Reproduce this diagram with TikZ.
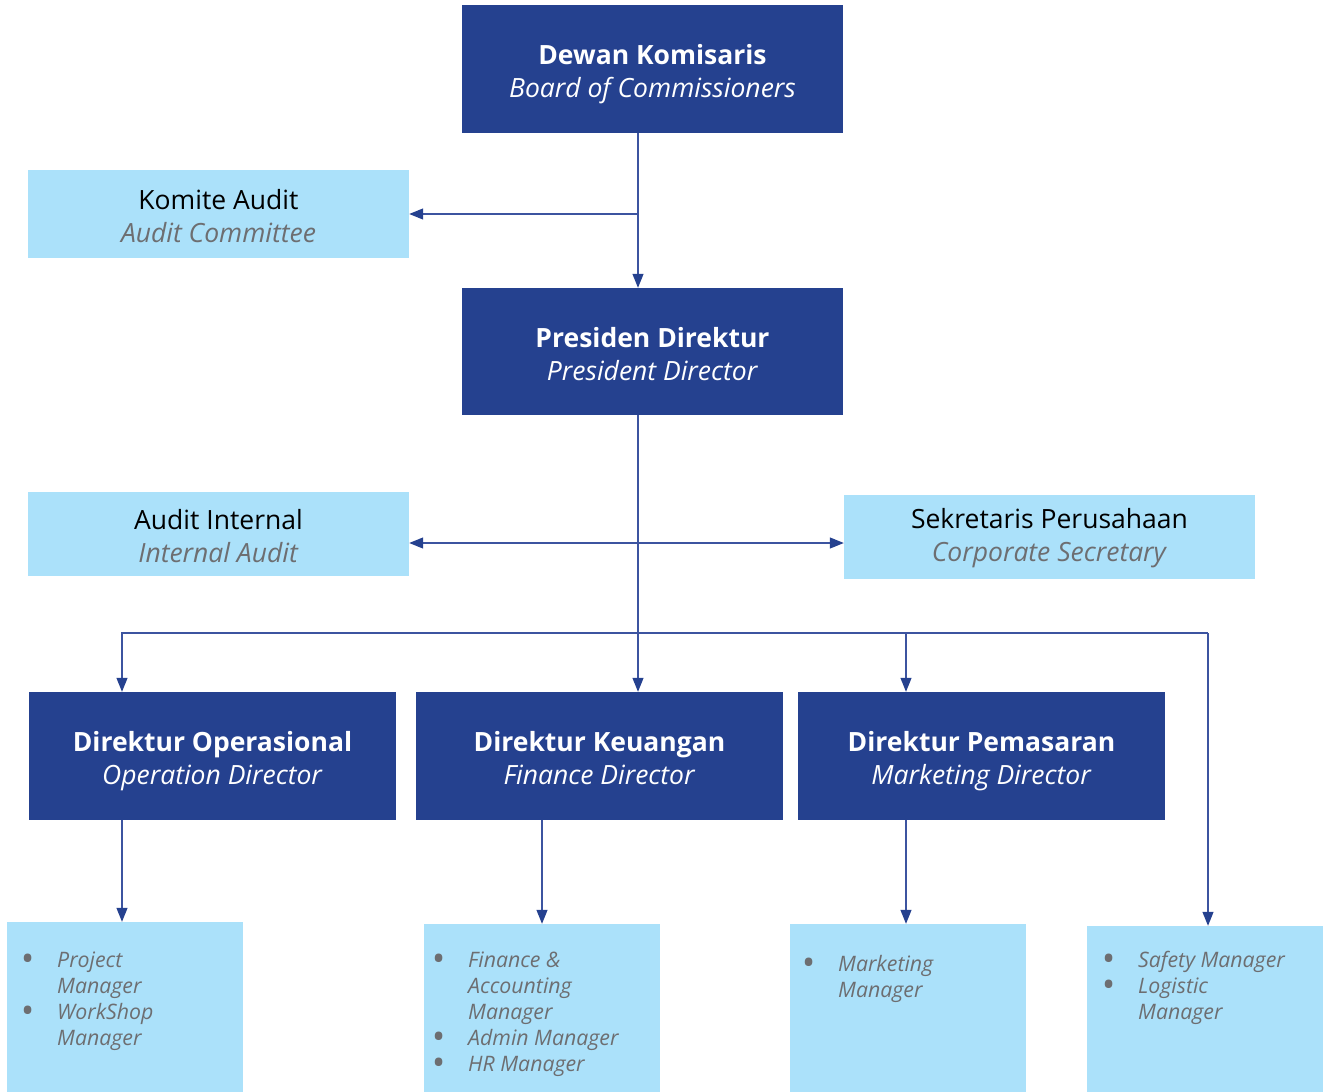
\documentclass[tikz,border=0pt]{standalone}
\usepackage{fontspec}
\usepackage{graphicx}
\setmainfont{Open Sans}
\usetikzlibrary{arrows.meta}
\definecolor{darkbox}{HTML}{25418F}
\definecolor{lightbox}{HTML}{ABE1FA}
\definecolor{subgray}{HTML}{6D6E71}
\definecolor{linkblue}{HTML}{3C54A0}
\newcommand{\listbullet}{\strut\makebox[37pt][l]{\raisebox{-4.5pt}{\scalebox{1.7}{\textbullet}}}}
\newcommand{\listindent}{\strut\hspace*{37pt}}
\begin{document}
\begin{tikzpicture}[x=1pt,y=-1pt,
    dark/.style={fill=darkbox,text=white,align=center,inner sep=0pt,
      text height=57pt,text depth=0pt,font=\fontsize{26.5}{33}\selectfont},
    light/.style={fill=lightbox,text=black,align=center,inner sep=0pt,
      text height=57pt,text depth=0pt,font=\fontsize{26.5}{33}\selectfont},
    list/.style={fill=lightbox,inner sep=0pt,minimum width=236pt},
    items/.style={anchor=north west,align=left,inner sep=0pt,text=subgray,
      font=\fontsize{21.3}{26}\selectfont\itshape},
    link/.style={draw=linkblue,line width=1.2pt,
      -{Triangle[length=14pt,width=11pt,color=darkbox]}}]
  \useasboundingbox (0,0) rectangle (1328,1092);
  \node[dark,minimum width=381pt,minimum height=128pt] (dewan) at (652.5,69)
    {\textbf{Dewan Komisaris}\\\textit{Board of Commissioners}};
  \node[light,minimum width=381pt,minimum height=88pt] (komite) at (218.5,214)
    {Komite Audit\\\textcolor{subgray}{\textit{Audit Committee}}};
  \node[dark,minimum width=381pt,minimum height=127pt] (presiden) at (652.5,351.5)
    {\textbf{Presiden Direktur}\\\textit{President Director}};
  \node[light,minimum width=381pt,minimum height=84pt] (internal) at (218.5,534)
    {Audit Internal\\\textcolor{subgray}{\textit{Internal Audit}}};
  \node[light,text height=49pt,minimum width=411pt,minimum height=84pt] (sekretaris) at (1049.5,537)
    {Sekretaris Perusahaan\\\textcolor{subgray}{\textit{Corporate Secretary}}};
  \node[dark,minimum width=367pt,minimum height=128pt] (operasional) at (212.5,756)
    {\textbf{Direktur Operasional}\\\textit{Operation Director}};
  \node[dark,minimum width=367pt,minimum height=128pt] (keuangan) at (599.5,756)
    {\textbf{Direktur Keuangan}\\\textit{Finance Director}};
  \node[dark,minimum width=367pt,minimum height=128pt] (pemasaran) at (981.5,756)
    {\textbf{Direktur Pemasaran}\\\textit{Marketing Director}};
  \node[list,minimum height=170pt] (proj) at (125,1007) {};
  \node[list,minimum height=168pt] (fin) at (542,1008) {};
  \node[list,minimum height=168pt] (mkt) at (908,1008) {};
  \node[list,minimum height=166pt] (log) at (1205,1009) {};
  \node[items] (projitems) at (20,948.8)
    {\listbullet Project\\\listindent Manager\\\listbullet WorkShop\\\listindent Manager};
  \node[items] (finitems) at (431,948.8)
    {\listbullet Finance \&\\\listindent Accounting\\\listindent Manager\\\listbullet Admin Manager\\\listbullet HR Manager};
  \node[items] (mktitems) at (801,952.8)
    {\listbullet Marketing\\\listindent Manager};
  \node[items] (logitems) at (1101,948.8)
    {\listbullet Safety Manager\\\listbullet Logistic\\\listindent Manager};
  \coordinate (top) at (638,214);
  \coordinate (mid) at (638,543);
  \coordinate (busl) at (122,633);
  \coordinate (busr) at (1208,633);
  \coordinate (pem) at (906,633);
  \draw[link] (dewan.south -| top) -- (presiden.north -| top);
  \draw[link] (top) -- (komite.east);
  \draw[link] (presiden.south -| mid) -- (keuangan.north -| mid);
  \draw[link] (mid) -- (mid -| internal.east);
  \draw[link] (mid) -- (mid -| sekretaris.west);
  \draw[link] (busr) -- (busl) -- (busl |- operasional.north);
  \draw[link] (busr) -- (busr |- log.north);
  \draw[link] (pem) -- (pem |- pemasaran.north);
  \draw[link] (operasional.south -| busl) -- (busl |- proj.north);
  \draw[link] (fin.north |- keuangan.south) -- (fin.north);
  \draw[link] (pemasaran.south -| pem) -- (pem |- mkt.north);
\end{tikzpicture}
\end{document}
